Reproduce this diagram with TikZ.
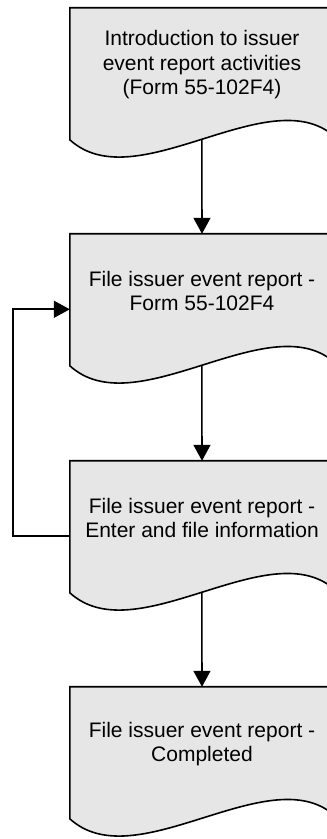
\documentclass[tikz,border=0pt]{standalone}
\usepackage{fontspec}
\setmainfont{Liberation Sans}
\usetikzlibrary{arrows.meta,calc,backgrounds}
\definecolor{docfill}{HTML}{E6E6E6}
\tikzset{
  docbox/.style={minimum width=264pt, minimum height=114pt, inner sep=0pt, align=center,
    font=\fontsize{21}{24.5}\selectfont},
  docline/.style={draw=black, line width=1.6pt, fill=docfill},
  arr/.style={line width=1.6pt, -{Triangle[length=16pt,width=17pt]}}
}
\newcommand{\docshape}[1]{%
  \path[docline] (#1.north west) -- ($(#1.north west)+(0,-132)$)
    .. controls ($(#1.north west)+(66,-192)$) and ($(#1.north west)+(198,-72)$) ..
    ($(#1.north west)+(264,-128)$) -- (#1.north east) -- cycle;
  \coordinate (#1w) at ($(#1.north west)+(132,-131.5)$);
}
\begin{document}
\begin{tikzpicture}[x=1pt,y=1pt]
\useasboundingbox (0,0) rectangle (327,839);
\clip (0,0) rectangle (327,839);
\node[docbox] (b1) at (202,774) {Introduction to issuer\\event report activities\\(Form 55-102F4)};
\node[docbox] (b2) at (202,548) {File issuer event report -\\Form 55-102F4};
\node[docbox] (b3) at (202,321) {File issuer event report -\\Enter and file information};
\node[docbox] (b4) at (202,95) {File issuer event report -\\Completed};
\begin{scope}[on background layer]
\docshape{b1}
\docshape{b2}
\docshape{b3}
\docshape{b4}
\end{scope}
\draw[arr] (b1w) -- (b2.north);
\draw[arr] (b2w) -- (b3.north);
\draw[arr] (b3w) -- (b4.north);
\draw[arr] ($(b3.north west)+(0,-75.5)$) -- ++(-57,0) |- ($(b2.north west)+(0,-75.5)$);
\end{tikzpicture}
\end{document}
